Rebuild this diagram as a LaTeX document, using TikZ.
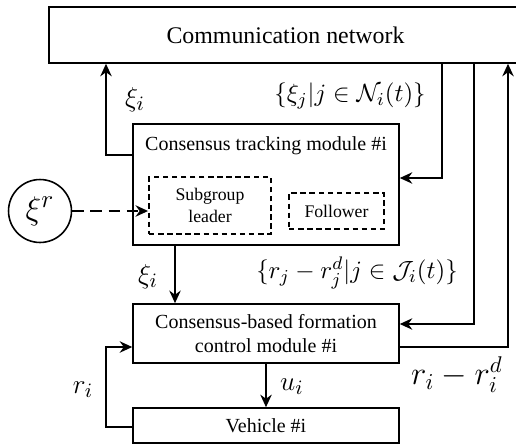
\documentclass[tikz,border=0pt]{standalone}
\usepackage[no-math]{fontspec}
\setmainfont{Liberation Serif}
\usetikzlibrary{arrows.meta}
\begin{document}
\begin{tikzpicture}
	[	x=0.44pt,y=-0.44pt,
	box/.style={rectangle,draw=black,line width=0.7pt,inner sep=0pt,align=center,font=\fontsize{8.8}{10.8}\selectfont},
	subbox/.style={rectangle,draw=black,line width=0.8pt,dash pattern=on 2.4pt off 1.6pt,inner sep=0pt,align=center,font=\fontsize{7.8}{9.6}\selectfont},
	plain/.style={draw=none,fill=none,font=\fontsize{8.8}{10.8}\selectfont},
	sig/.style={draw=none,fill=none,font=\fontsize{13}{15}\selectfont},
	arr/.style={-{Stealth[length=5.5pt,width=5pt]},line width=1.1pt}
	]
	\useasboundingbox (0,0) rectangle (516,445);
	\node[box,minimum width=208pt,minimum height=24.6pt,font=\fontsize{10.5}{12}\selectfont] (net) at (285.5,35){Communication network};
	\node[box,minimum width=117pt,minimum height=53.2pt] (track) at (266,184.5){};
	\node[plain] (tracktitle) at (266,146){Consensus tracking module \#i};
	\node[subbox,minimum width=53.7pt,minimum height=25pt] (leader) at (210,205.5){Subgroup\\leader};
	\node[subbox,minimum width=41.8pt,minimum height=15.8pt] (follower) at (336.5,211){Follower};
	\node[circle,draw=black,line width=0.7pt,minimum size=27.7pt,inner sep=0pt,font=\fontsize{15}{17}\selectfont] (xir) at (40,211){$\xi^r$};
	\node[box,minimum width=117pt,minimum height=26pt] (form) at (266,333.5){Consensus-based formation\\control module \#i};
	\node[box,minimum width=117pt,minimum height=15.4pt] (veh) at (266,425.5){Vehicle \#i};
\coordinate (up) at (106,155);
\coordinate (down) at (442,178);
\coordinate (toform) at (474,324);
\coordinate (fromform) at (508,347);
\coordinate (mid) at (175,0);
\coordinate (fbtop) at (106,347);
\coordinate (fbbot) at (106,427);
	\draw[arr] (track.west |- up) -| (net.south -| up);
	\draw[arr] (net.south -| down) |- (track.east |- down);
	\draw[arr] (net.south -| toform) |- (form.east |- toform);
	\draw[arr] (form.east |- fromform) -| (net.south -| fromform);
	\draw[arr] (track.south -| mid) -- (form.north -| mid);
	\draw[arr] (form.south) -- (veh.north);
	\draw[arr] (veh.west |- fbbot) -- (fbbot) -- (fbtop) -- (form.west |- fbtop);
	\draw[arr,line width=1.2pt,dash pattern=on 5pt off 3pt] (xir.east) -- (leader.west |- xir.east);
\node[sig] (xiup) at (135,100){$\xi_i$};
\node[sig,font=\fontsize{11}{13}\selectfont] (nbr) at (350,96){$\{\xi_j|j\in\mathcal{N}_i(t)\}$};
\node[sig] (xidown) at (148,277){$\xi_i$};
\node[sig,font=\fontsize{11}{13}\selectfont] (rel) at (357,273){$\{r_j-r_j^d|j\in\mathcal{J}_i(t)\}$};
\node[sig] (ui) at (292,387){$u_i$};
\node[sig] (ri) at (83,390){$r_i$};
\node[sig,font=\fontsize{14}{16}\selectfont] (rird) at (457,375){$r_i-r_i^d$};
	\end{tikzpicture}
\end{document}
